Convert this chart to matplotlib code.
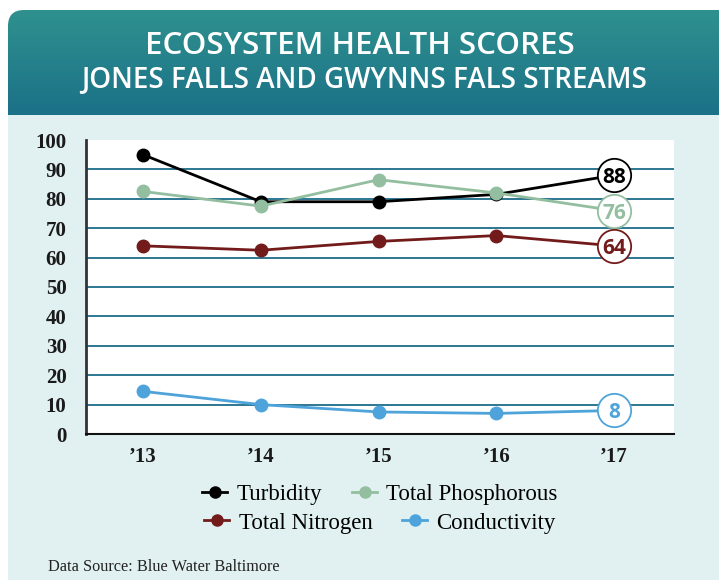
import numpy as np
import matplotlib
matplotlib.use('Agg')
from matplotlib import pyplot as plt
from matplotlib.patches import FancyBboxPatch, Rectangle
from matplotlib.lines import Line2D

# data
years = ["\u201913", "\u201914", "\u201915", "\u201916", "\u201917"]
turbidity = [95, 79, 79, 81.5, 88]
phosphorous = [82.5, 77.5, 86.5, 82, 76]
nitrogen = [64, 62.5, 65.5, 67.5, 64]
conductivity = [14.5, 10, 7.5, 7, 8]

series = [
    ("Turbidity", turbidity, "#000000"),
    ("Total Phosphorous", phosphorous, "#93bfa0"),
    ("Total Nitrogen", nitrogen, "#731b1b"),
    ("Conductivity", conductivity, "#4ea4da"),
]

W, H = 719, 580
fig = plt.figure(figsize=(W / 100, H / 100), dpi=100)
fig.patch.set_facecolor("white")

# background: header gradient + light panel
bg = fig.add_axes([0, 0, 1, 1], zorder=-1)
bg.set_xlim(0, W)
bg.set_ylim(H, 0)
bg.axis('off')
grad = np.linspace(0, 1, 256).reshape(-1, 1)
top = np.array([47, 145, 143]) / 255.0
bot = np.array([22, 105, 133]) / 255.0
img = top[None, None, :] * (1 - grad[:, :, None]) + bot[None, None, :] * grad[:, :, None]
im = bg.imshow(img, extent=[8, W + 30, 140, 10], aspect='auto', zorder=1)
clip = FancyBboxPatch((8, 10), W + 22, 130, boxstyle="round,pad=0,rounding_size=16",
                      transform=bg.transData, facecolor='none', edgecolor='none')
bg.add_patch(clip)
im.set_clip_path(clip)
bg.add_patch(Rectangle((8, 115), W, H, facecolor="#e1f1f1", edgecolor='none', zorder=2))

bg.text(360, 46, "ECOSYSTEM HEALTH SCORES", color="white", fontsize=22.5,
        family="Open Sans", fontweight="semibold", ha="center", va="center", zorder=3)
bg.text(364, 80, "JONES FALLS AND GWYNNS FALS STREAMS", color="white", fontsize=20,
        family="Open Sans", fontweight="semibold", ha="center", va="center", zorder=3)
bg.text(48, 567, "Data Source: Blue Water Baltimore", color="#222222", fontsize=11.7,
        family="Liberation Serif", ha="left", va="center", zorder=3)

# main chart
ax = fig.add_axes([86 / W, 1 - 434 / H, 588 / W, 294 / H])
ax.set_facecolor("white")
x = np.arange(len(years))
for name, vals, color in series:
    ax.plot(x, vals, color=color, lw=2, marker='o', ms=9, zorder=3)
    ax.plot(x[-1], vals[-1], marker='o', ms=24, mfc='white', mec=color, mew=1.3,
            ls='none', zorder=4)
    ax.text(x[-1], vals[-1], str(int(round(vals[-1]))), color=color, fontsize=15,
            fontweight='bold', family="Open Sans", ha='center', va='center_baseline', zorder=5)

ax.set_xlim(-0.485, 4.51)
ax.set_ylim(0, 100)
ax.set_yticks(range(0, 101, 10))
ax.set_xticks(x)
ax.set_xticklabels(years)
for t in range(10, 100, 10):
    ax.axhline(t, color="#1d6b89", lw=1.3, zorder=1)
ax.tick_params(length=0)
ax.tick_params(axis='y', pad=14)
ax.tick_params(axis='x', pad=9)
for lab in ax.get_yticklabels() + ax.get_xticklabels():
    lab.set_family("Liberation Serif")
    lab.set_fontweight("bold")
    lab.set_fontsize(15)
    lab.set_color("#1a1a1a")
for s in ["top", "right"]:
    ax.spines[s].set_visible(False)
ax.spines["left"].set_color("#333333")
ax.spines["left"].set_linewidth(2)
ax.spines["bottom"].set_color("#111111")
ax.spines["bottom"].set_linewidth(1.5)

# legends, two centred rows
def handle(color):
    return Line2D([], [], color=color, lw=2, marker='o', ms=8)

rows = [(series[0], series[1], 494), (series[2], series[3], 523)]
for a, b, yy in rows:
    leg = fig.legend([handle(a[2]), handle(b[2])], [a[0], b[0]], ncol=2,
                     loc='center', bbox_to_anchor=(380 / W, 1 - yy / H), frameon=False,
                     prop={'family': 'Liberation Serif', 'size': 16.5},
                     handlelength=1.1, handletextpad=0.4, columnspacing=1.3)

fig.savefig("out.png", dpi=100)
